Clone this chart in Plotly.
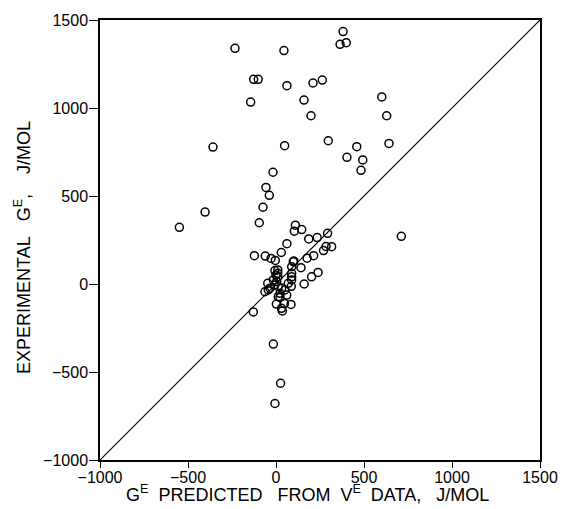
import plotly.graph_objects as go

# Predicted G^E from V^E data (J/mol) and experimental G^E (J/mol)
ge_predicted = [
    -233, 45, -127, -101, 62, -144, -358, 49, -17, -57, -38, -74, -403, -549, -95,
    381, 364, 399, 210, 263, 159, 199, 601, 629, 297, 459, 403, 493, 483, 642, 712,
    110, 104, 146, 186, 234, 293, 62, 30, 270, 284, 316, 214, 177, 102, 142, 239,
    202, 160, 89, 89, 89, 87, -123, -61, -28, -4, -129, 2, 48, 85, 31, 36, 23,
    -15, 26, -6, 10, 10, 10, 98, 89, -47, -34, -10, 13, 32, 51, 23, 13, -15, 4,
    70, 61, -63, -44, -6, 0,
]
ge_experimental = [
    1339, 1326, 1163, 1163, 1127, 1034, 778, 786, 635, 549, 504, 436, 409, 322, 348,
    1434, 1362, 1371, 1142, 1159, 1045, 956, 1063, 956, 814, 780, 720, 705, 646, 799, 271,
    334, 300, 309, 256, 264, 288, 229, 179, 190, 213, 212, 161, 147, 130, 93, 66,
    41, 0, 61, 41, 23, -13, 161, 159, 145, 134, -159, -114, -111, -116, -138, -153, -76,
    -341, -564, -679, 80, 61, 41, 127, 98, 4, -24, -6, -15, -24, -34, -53, -72, 23, 13,
    4, -63, -44, -34, 76, 51,
]
diagonal = [-1000, 1500]
tick_vals = [-1000, -500, 0, 500, 1000, 1500]
x_title = "G<sup>E</sup>\u00a0\u00a0PREDICTED\u00a0\u00a0\u00a0FROM\u00a0\u00a0V<sup>E</sup>\u00a0\u00a0DATA,\u00a0\u00a0\u00a0J/MOL"
y_title = "EXPERIMENTAL\u00a0\u00a0\u00a0G<sup>E</sup>,\u00a0\u00a0\u00a0\u00a0J/MOL"

fig = go.Figure()
fig.add_trace(go.Scatter(
    x=diagonal, y=diagonal, mode="lines",
    line=dict(color="black", width=1.2), hoverinfo="skip", showlegend=False,
))
fig.add_trace(go.Scatter(
    x=ge_predicted, y=ge_experimental, mode="markers",
    marker=dict(symbol="circle-open", size=8, color="black", line=dict(width=1.5)),
    showlegend=False,
))

family = "Liberation Sans, Arial, sans-serif"
tick_font = dict(family=family, size=16, color="black")
title_font = dict(family=family, size=18, color="black")
axis_common = dict(
    range=[-1000, 1500], tickvals=tick_vals, showgrid=False, zeroline=False,
    showline=True, linecolor="black", linewidth=1.5, mirror=True,
    ticks="outside", tickwidth=1.2, tickcolor="black",
    tickfont=tick_font,
)
fig.update_xaxes(**axis_common, ticklen=6, ticklabelstandoff=-4)
fig.update_yaxes(**axis_common, ticklen=9, ticklabelstandoff=-2)

fig.add_annotation(text=x_title, xref="paper", yref="paper",
                   x=(307 - 100) / 440, y=(460 - 494) / 440,
                   xanchor="center", yanchor="middle", showarrow=False, font=title_font)
fig.add_annotation(text=y_title, xref="paper", yref="paper", textangle=-90,
                   x=(22 - 100) / 440, y=(460 - 248) / 440,
                   xanchor="center", yanchor="middle", showarrow=False, font=title_font)

fig.update_layout(
    width=563, height=509,
    margin=dict(l=100, r=23, t=20, b=49, autoexpand=False),
    paper_bgcolor="white", plot_bgcolor="white",
    font=tick_font,
)
fig.write_html("out.html", config={"displayModeBar": False},
               post_script="document.body.style.margin='0';document.body.style.overflow='hidden';")
